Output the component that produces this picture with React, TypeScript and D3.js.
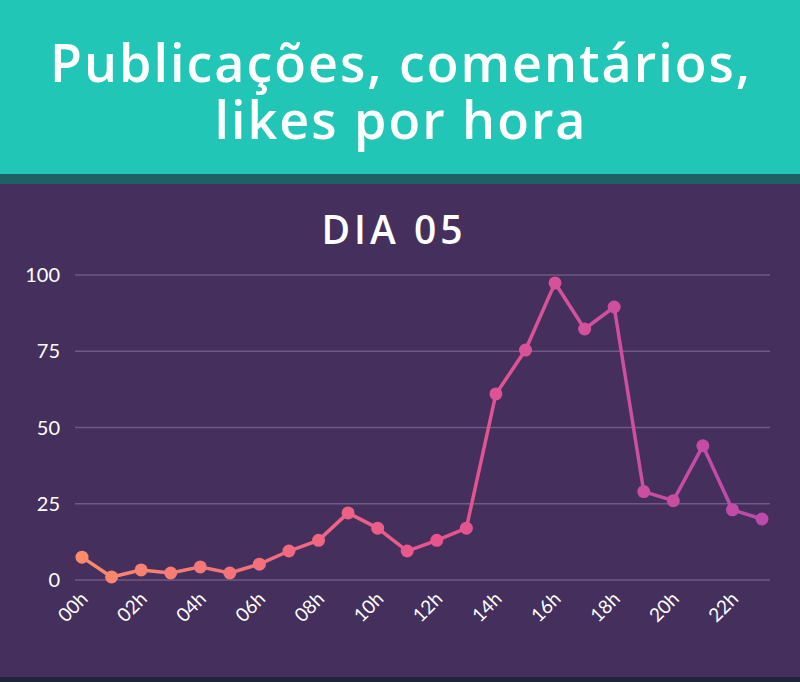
import { useMemo } from "react";
import * as d3 from "d3";

const hours = d3.range(24).map(h => `${String(h).padStart(2, "0")}h`);
const values = [7.5, 1, 3.3, 2.3, 4.3, 2.3, 5.2, 9.5, 13, 22, 17, 9.5, 13, 17, 61, 75.4, 97.4, 82.3, 89.5, 29, 26, 44, 23, 20];
const yTicks = [0, 25, 50, 75, 100];
const xTickLabels = hours.filter((_, i) => i % 2 === 0);
const titleLines = ["Publicações, comentários,", "likes por hora"];
const subtitle = "DIA 05";

const W = 800;
const H = 682;
const titleFont = "'Open Sans', Lato, sans-serif";

export default function App() {
  const x = d3.scalePoint<string>().domain(hours).range([82, 762]);
  const y = d3.scaleLinear().domain([0, 100]).range([580, 275]);

  const line = d3.line<number>()
    .x((_, i) => x(hours[i])!)
    .y(d => y(d));

  const colorAt = useMemo(
    () => d3.scaleLinear<string>()
      .domain([82, 420, 762])
      .range(["#fd8a6a", "#e8568c", "#bc4aab"])
      .interpolate(d3.interpolateRgb),
    []
  );

  return (
    <svg width={W} height={H} style={{ position: "absolute", left: 0, top: 0 }}>
      <defs>
        <linearGradient id="lineGrad" gradientUnits="userSpaceOnUse" x1={82} x2={762} y1={0} y2={0}>
          <stop offset="0%" stopColor="#fd8a6a" />
          <stop offset="50%" stopColor="#e8568c" />
          <stop offset="100%" stopColor="#bc4aab" />
        </linearGradient>
      </defs>
      <rect x={0} y={0} width={W} height={174} fill="#22c6b6" />
      <rect x={0} y={174} width={W} height={10} fill="#1f5f66" />
      <rect x={0} y={184} width={W} height={493} fill="#452f5c" />
      <rect x={0} y={677} width={W} height={5} fill="#1f2537" />

      {/* two-line title in one text element */}
      <text textAnchor="middle" fill="#fff" fontFamily={titleFont} fontWeight={600}
        fontSize={52} letterSpacing={2}>
        {titleLines.map((t, i) => (
          <tspan key={t} x={W / 2 + 1} y={82 + i * 57}>{t}</tspan>
        ))}
      </text>
      <text x={394} y={244} textAnchor="middle" fill="#fff"
        fontFamily={titleFont} fontWeight={600} fontSize={39} letterSpacing={4}>
        {subtitle}
      </text>

      {yTicks.map(t => (
        <g key={t}>
          <line x1={75} x2={770} y1={y(t)} y2={y(t)} stroke="#6e5a85" strokeWidth={1.5} />
          <text x={60} y={y(t)} dy="0.35em" textAnchor="end" fill="#fff"
            fontFamily="Lato, sans-serif" fontSize={20}>
            {t}
          </text>
        </g>
      ))}

      {xTickLabels.map(h => (
        <text key={h} transform={`translate(${x(h)! - 3},${590}) rotate(-45)`} textAnchor="end"
          dy="0.75em" fill="#fff" fontFamily="Lato, sans-serif" fontSize={19}>
          {h}
        </text>
      ))}

      <path d={line(values) || ""} fill="none" stroke="url(#lineGrad)" strokeWidth={3.5} strokeLinejoin="round" />
      {values.map((v, i) => (
        <circle key={i} cx={x(hours[i])} cy={y(v)} r={6.5} fill={colorAt(x(hours[i])!)} />
      ))}
    </svg>
  );
}
